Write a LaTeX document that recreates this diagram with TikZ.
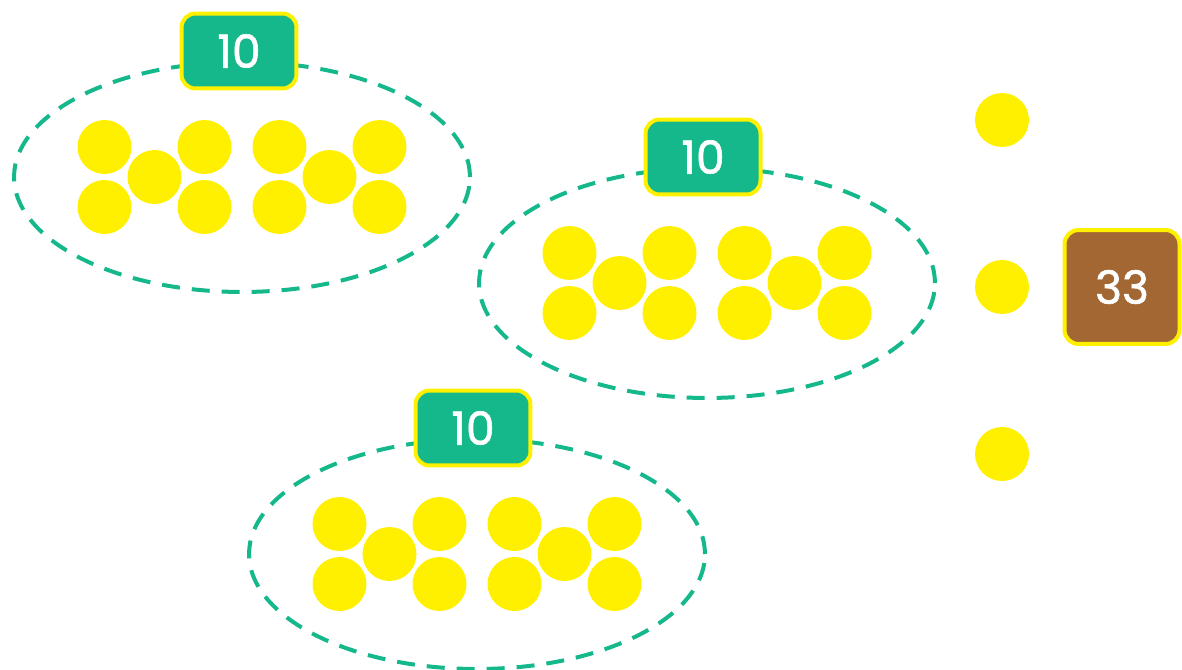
\documentclass[tikz,border=0pt]{standalone}
\usepackage{fontspec}
\setmainfont{Poppins}
\newfontface\tagfont{Poppins}[FakeBold=1.4]
\usetikzlibrary{shapes.geometric}
\definecolor{groupGreen}{HTML}{14B88B}
\definecolor{dotYellow}{HTML}{FFF000}
\definecolor{unitBrown}{HTML}{A36733}

\begin{document}
\begin{tikzpicture}[
        x=0.02cm, y=-0.02cm,
        dot/.style={circle, fill=dotYellow, minimum size=1.08cm, inner sep=0pt},
        group/.style={ellipse, draw=groupGreen, line width=0.08cm, dash pattern=on 0.36cm off 0.24cm, minimum width=9.12cm, minimum height=4.6cm, inner sep=0pt},
        tag/.style={rectangle, draw=dotYellow, line width=0.08cm, rounded corners=0.28cm, minimum width=2.3cm, minimum height=1.5cm, text=white, font=\tagfont\fontsize{26}{30}\selectfont, inner sep=0pt},
        tenTag/.style={tag, fill=groupGreen},
        totalTag/.style={tag, fill=unitBrown, minimum height=2.28cm, minimum width=2.3cm}
    ]
        \useasboundingbox (0,0) rectangle (1182,669);
        % groups of ten
        \foreach \gx/\gy/\lx/\ly/\n in {242/177/239/51/a, 707/283/703/157/b, 477/554/473/428/c} {
            \node[group] (grp-\n) at (\gx,\gy) {};
            \foreach \dx/\dy [count=\i] in {-137.5/-30, -137.5/30, -87.5/0, -37.5/-30, -37.5/30, 37.5/-30, 37.5/30, 87.5/0, 137.5/-30, 137.5/30}
                \node[dot] (dot-\n-\i) at (\gx+\dx,\gy+\dy) {};
            \node[tenTag] (ten-\n) at (\lx,\ly) {10};
        }
        % single ones
        \node[dot] (one-1) at (1002,120) {};
        \node[dot] (one-2) at (1002,287) {};
        \node[dot] (one-3) at (1002,454) {};
        \node[totalTag] (total) at (1122,287) {33};
\end{tikzpicture}
\end{document}
